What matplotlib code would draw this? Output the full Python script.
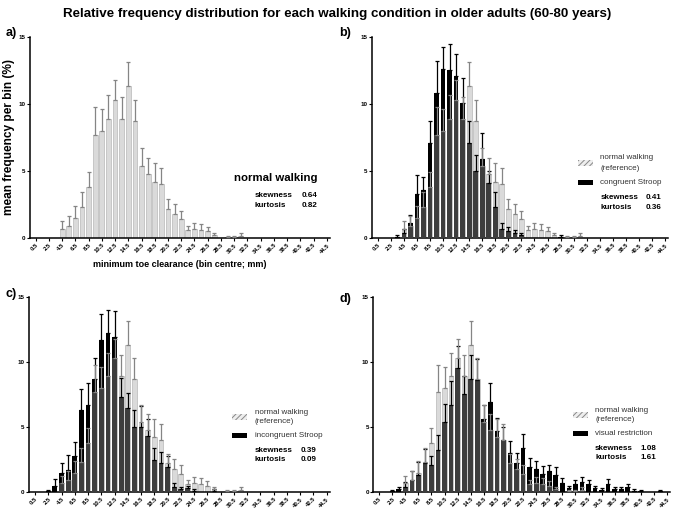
"""
Relative frequency distribution of minimum toe clearance, older adults
"""

import numpy as np
import matplotlib.pyplot as plt
from matplotlib.patches import Rectangle

plt.rcParams['font.family'] = ['Liberation Sans', 'DejaVu Sans']
plt.rcParams['hatch.linewidth'] = 0.7

# bin centres 0.5 ... 44.5 mm
bins = np.arange(45) + 0.5
tick_bins = bins[::2]
tick_labels = ["{:.1f}".format(b) for b in tick_bins]


def padded(values):
    out = np.zeros(45)
    out[:len(values)] = values
    return out


# normal walking (reference): mean and top of error bar
normal_mean = padded([0, 0, 0, 0, 0.7, 0.9, 1.5, 2.3, 3.8, 7.7, 8.0, 8.9, 10.3, 8.9, 11.3,
                      8.7, 5.4, 4.8, 4.2, 4.0, 2.2, 1.8, 1.4, 0.6, 0.7, 0.6, 0.5, 0.2, 0,
                      0.05, 0.05, 0.15])
normal_top = padded([0, 0, 0, 0, 1.25, 1.65, 2.4, 3.4, 4.95, 9.8, 9.6, 10.7, 11.8, 10.55, 13.15,
                     10.3, 6.7, 6.0, 5.6, 5.2, 2.9, 2.55, 2.05, 0.9, 1.15, 1.05, 0.85, 0.35, 0,
                     0.15, 0.15, 0.35])

congruent_mean = padded([0, 0, 0, 0.1, 0.4, 1.1, 3.3, 3.6, 7.1, 10.8, 12.6, 12.5, 12.1, 10.1, 7.1,
                         5.0, 5.9, 4.1, 2.3, 0.7, 0.5, 0.4, 0.2, 0, 0, 0, 0, 0, 0.05])
congruent_top = padded([0, 0, 0, 0.2, 0.65, 1.7, 4.7, 4.55, 8.7, 13.2, 14.25, 14.5, 13.75, 11.9, 8.7,
                        6.2, 7.8, 5.0, 3.4, 1.1, 0.8, 0.6, 0.4, 0, 0, 0, 0, 0, 0.2])

incongruent_mean = padded([0, 0, 0.05, 0.5, 1.5, 1.7, 2.8, 6.3, 6.7, 8.7, 11.7, 12.2, 11.9, 7.3, 6.5,
                           5.0, 5.0, 4.3, 2.5, 2.2, 1.9, 0.4, 0.2, 0.3, 0.1, 0, 0, 0.1])
incongruent_top = padded([0, 0, 0.15, 1.0, 2.2, 2.85, 3.85, 7.95, 8.35, 10.3, 13.7, 14.0, 13.9, 8.8, 7.65,
                          6.3, 6.6, 5.6, 3.4, 3.1, 2.8, 0.7, 0.4, 0.5, 0.2, 0, 0, 0.2])

visual_mean = padded([0, 0, 0.05, 0.2, 0.4, 0.9, 1.3, 2.2, 2.1, 3.2, 5.4, 6.7, 9.5, 7.5, 8.7,
                      8.6, 5.6, 6.9, 4.7, 4.0, 3.0, 2.2, 3.4, 1.9, 1.8, 1.4, 1.6, 1.3, 0.7,
                      0.3, 0.6, 0.8, 0.6, 0.3, 0.15, 0.6, 0.2, 0.2, 0.4, 0.1, 0.1, 0, 0, 0.1])
visual_top = padded([0, 0, 0.15, 0.35, 0.8, 1.6, 2.3, 3.3, 2.8, 4.35, 6.8, 8.5, 11.25, 8.9, 10.5,
                     10.2, 6.7, 8.35, 5.7, 5.0, 3.9, 3.0, 4.45, 2.6, 2.4, 2.0, 2.1, 1.9, 1.05,
                     0.5, 0.95, 1.15, 0.95, 0.45, 0.3, 1.0, 0.35, 0.35, 0.65, 0.2, 0.15, 0, 0, 0.15])

light = '#dadada'
light_edge = '#b8b8b8'
dark = '#3d3d3d'
bw = 0.72


def style_axes(ax):
    ax.set_xlim(-0.4, 45)
    ax.set_ylim(0, 15)
    ax.spines['top'].set_visible(False)
    ax.spines['right'].set_visible(False)
    ax.spines['left'].set_linewidth(1.1)
    ax.spines['bottom'].set_linewidth(1.1)
    ax.set_yticks([0, 5, 10, 15])
    ax.set_yticklabels(['0', '5', '10', '15'], fontsize=4.5, fontweight='bold')
    ax.set_xticks(tick_bins)
    ax.set_xticklabels(tick_labels, rotation=45, ha='right', rotation_mode='anchor',
                       fontsize=4.2, fontweight='bold')
    ax.tick_params(axis='both', length=2, width=0.8, pad=1.2)


def draw_reference(ax):
    ax.bar(bins, normal_mean, width=bw, color=light, edgecolor=light_edge, linewidth=0.5, zorder=1)


def draw_reference_err(ax):
    show = normal_top > 0
    ax.errorbar(bins[show], normal_mean[show],
                yerr=[np.zeros(show.sum()), normal_top[show] - normal_mean[show]],
                fmt='none', ecolor='#858585', elinewidth=0.9, capsize=1.2, capthick=0.9, zorder=5)


def draw_condition(ax, mean, top):
    ax.bar(bins, mean, width=bw, color='black', linewidth=0, zorder=2)
    ax.bar(bins, np.minimum(mean, normal_mean), width=bw, color=dark, linewidth=0, zorder=3)
    show = top > 0
    ax.errorbar(bins[show], mean[show], yerr=[np.zeros(show.sum()), top[show] - mean[show]],
                fmt='none', ecolor='black', elinewidth=0.9, capsize=1.2, capthick=0.9, zorder=4)


def draw_key(ax, name, skew, kurt, x0, y0):
    ax.add_patch(Rectangle((x0, y0 - 0.014), 0.05, 0.03, transform=ax.transAxes,
                           facecolor='#eeeeee', edgecolor='#888888', hatch='//////',
                           linewidth=0, clip_on=False))
    ax.text(x0 + 0.075, y0 + 0.025, 'normal walking', transform=ax.transAxes,
            fontsize=5.8, va='center', color='#333333')
    ax.text(x0 + 0.075, y0 - 0.025, '(reference)', transform=ax.transAxes,
            fontsize=5.8, va='center', color='#333333')
    ax.add_patch(Rectangle((x0, y0 - 0.108), 0.05, 0.024, transform=ax.transAxes,
                           facecolor='black', linewidth=0, clip_on=False))
    ax.text(x0 + 0.075, y0 - 0.096, name, transform=ax.transAxes,
            fontsize=5.8, va='center', color='#333333')
    ax.text(x0 + 0.075, y0 - 0.17, 'skewness', transform=ax.transAxes,
            fontsize=5.8, va='center', fontweight='bold')
    ax.text(x0 + 0.28, y0 - 0.17, skew, transform=ax.transAxes,
            fontsize=5.8, va='center', ha='right', fontweight='bold')
    ax.text(x0 + 0.075, y0 - 0.22, 'kurtosis', transform=ax.transAxes,
            fontsize=5.8, va='center', fontweight='bold')
    ax.text(x0 + 0.28, y0 - 0.22, kurt, transform=ax.transAxes,
            fontsize=5.8, va='center', ha='right', fontweight='bold')


fig = plt.figure(figsize=(6.75, 5.12), dpi=100)
ax_a = fig.add_axes([0.044, 0.535, 0.445, 0.393])
ax_b = fig.add_axes([0.551, 0.535, 0.439, 0.393])
ax_c = fig.add_axes([0.043, 0.039, 0.446, 0.381])
ax_d = fig.add_axes([0.553, 0.039, 0.44, 0.381])

# a) normal walking only
draw_reference(ax_a)
draw_reference_err(ax_a)
style_axes(ax_a)
ax_a.set_ylabel('mean frequency per bin (%)', fontsize=8.6, fontweight='bold', labelpad=2)
ax_a.set_xlabel('minimum toe clearance (bin centre; mm)', fontsize=6.5, fontweight='bold', labelpad=4)
ax_a.text(0.82, 0.30, 'normal walking', transform=ax_a.transAxes, fontsize=8.2,
          fontweight='bold', ha='center', va='center')
ax_a.text(0.75, 0.21, 'skewness', transform=ax_a.transAxes, fontsize=5.8, fontweight='bold', va='center')
ax_a.text(0.957, 0.21, '0.64', transform=ax_a.transAxes, fontsize=5.8, fontweight='bold', va='center', ha='right')
ax_a.text(0.75, 0.16, 'kurtosis', transform=ax_a.transAxes, fontsize=5.8, fontweight='bold', va='center')
ax_a.text(0.957, 0.16, '0.82', transform=ax_a.transAxes, fontsize=5.8, fontweight='bold', va='center', ha='right')

# b-d) condition against reference
panels = [(ax_b, congruent_mean, congruent_top, 'congruent Stroop', '0.41', '0.36', 0.696, 0.373),
          (ax_c, incongruent_mean, incongruent_top, 'incongruent Stroop', '0.39', '0.09', 0.675, 0.385),
          (ax_d, visual_mean, visual_top, 'visual restriction', '1.08', '1.61', 0.672, 0.395)]
for ax, mean, top, name, skew, kurt, kx, ky in panels:
    draw_reference(ax)
    draw_condition(ax, mean, top)
    draw_reference_err(ax)
    style_axes(ax)
    draw_key(ax, name, skew, kurt, kx, ky)

for label, x, y in [('a)', 0.008, 0.93), ('b)', 0.503, 0.93), ('c)', 0.008, 0.42), ('d)', 0.503, 0.41)]:
    fig.text(x, y, label, fontsize=9, fontweight='bold')

fig.suptitle('Relative frequency distribution for each walking condition in older adults (60-80 years)',
             fontsize=9.6, fontweight='bold', y=0.985)

fig.savefig('out.png', dpi=100)
